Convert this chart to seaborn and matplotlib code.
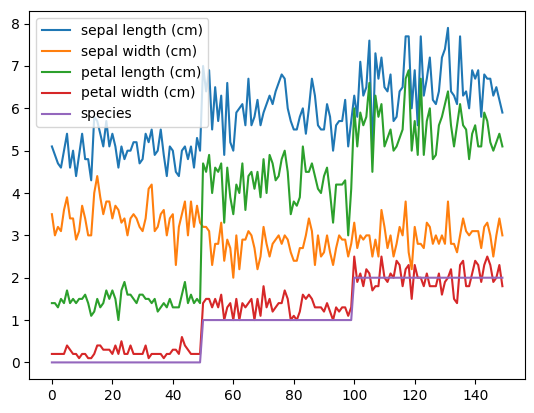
import pandas as pd
import numpy as np
import matplotlib.pyplot as plt
import seaborn as sns

plt.switch_backend('agg')

sepal_length = [5.1,4.9,4.7,4.6,5.0,5.4,4.6,5.0,4.4,4.9,5.4,4.8,4.8,4.3,5.8,5.7,5.4,5.1,5.7,5.1,
                5.4,5.1,4.6,5.1,4.8,5.0,5.0,5.2,5.2,4.7,4.8,5.4,5.2,5.5,4.9,5.0,5.5,4.9,4.4,5.1,
                5.0,4.5,4.4,5.0,5.1,4.8,5.1,4.6,5.3,5.0,
                7.0,6.4,6.9,5.5,6.5,5.7,6.3,4.9,6.6,5.2,5.0,5.9,6.0,6.1,5.6,6.7,5.6,5.8,6.2,5.6,
                5.9,6.1,6.3,6.1,6.4,6.6,6.8,6.7,6.0,5.7,5.5,5.5,5.8,6.0,5.4,6.0,6.7,6.3,5.6,5.5,
                5.5,6.1,5.8,5.0,5.6,5.7,5.7,6.2,5.1,5.7,
                6.3,5.8,7.1,6.3,6.5,7.6,4.9,7.3,6.7,7.2,6.5,6.4,6.8,5.7,5.8,6.4,6.5,7.7,7.7,6.0,
                6.9,5.6,7.7,6.3,6.7,7.2,6.2,6.1,6.4,7.2,7.4,7.9,6.4,6.3,6.1,7.7,6.3,6.4,6.0,6.9,
                6.7,6.9,5.8,6.8,6.7,6.7,6.3,6.5,6.2,5.9]
sepal_width = [3.5,3.0,3.2,3.1,3.6,3.9,3.4,3.4,2.9,3.1,3.7,3.4,3.0,3.0,4.0,4.4,3.9,3.5,3.8,3.8,
               3.4,3.7,3.6,3.3,3.4,3.0,3.4,3.5,3.4,3.2,3.1,3.4,4.1,4.2,3.1,3.2,3.5,3.6,3.0,3.4,
               3.5,2.3,3.2,3.5,3.8,3.0,3.8,3.2,3.7,3.3,
               3.2,3.2,3.1,2.3,2.8,2.8,3.3,2.4,2.9,2.7,2.0,3.0,2.2,2.9,2.9,3.1,3.0,2.7,2.2,2.5,
               3.2,2.8,2.5,2.8,2.9,3.0,2.8,3.0,2.9,2.6,2.4,2.4,2.7,2.7,3.0,3.4,3.1,2.3,3.0,2.5,
               2.6,3.0,2.6,2.3,2.7,3.0,2.9,2.9,2.5,2.8,
               3.3,2.7,3.0,2.9,3.0,3.0,2.5,2.9,2.5,3.6,3.2,2.7,3.0,2.5,2.8,3.2,3.0,3.8,2.6,2.2,
               3.2,2.8,2.8,2.7,3.3,3.2,2.8,3.0,2.8,3.0,2.8,3.8,2.8,2.8,2.6,3.0,3.4,3.1,3.0,3.1,
               3.1,3.1,2.7,3.2,3.3,3.0,2.5,3.0,3.4,3.0]
petal_length = [1.4,1.4,1.3,1.5,1.4,1.7,1.4,1.5,1.4,1.5,1.5,1.6,1.4,1.1,1.2,1.5,1.3,1.4,1.7,1.5,
                1.7,1.5,1.0,1.7,1.9,1.6,1.6,1.5,1.4,1.6,1.6,1.5,1.5,1.4,1.5,1.2,1.3,1.4,1.3,1.5,
                1.3,1.3,1.3,1.6,1.9,1.4,1.6,1.4,1.5,1.4,
                4.7,4.5,4.9,4.0,4.6,4.5,4.7,3.3,4.6,3.9,3.5,4.2,4.0,4.7,3.6,4.4,4.5,4.1,4.5,3.9,
                4.8,4.0,4.9,4.7,4.3,4.4,4.8,5.0,4.5,3.5,3.8,3.7,3.9,5.1,4.5,4.5,4.7,4.4,4.1,4.0,
                4.4,4.6,4.0,3.3,4.2,4.2,4.2,4.3,3.0,4.1,
                6.0,5.1,5.9,5.6,5.8,6.6,4.5,6.3,5.8,6.1,5.1,5.3,5.5,5.0,5.1,5.3,5.5,6.7,6.9,5.0,
                5.7,4.9,6.7,4.9,5.7,6.0,4.8,4.9,5.6,5.8,6.1,6.4,5.6,5.1,5.6,6.1,5.6,5.5,4.8,5.4,
                5.6,5.1,5.1,5.9,5.7,5.2,5.0,5.2,5.4,5.1]
petal_width = [0.2,0.2,0.2,0.2,0.2,0.4,0.3,0.2,0.2,0.1,0.2,0.2,0.1,0.1,0.2,0.4,0.4,0.3,0.3,0.3,
               0.2,0.4,0.2,0.5,0.2,0.2,0.4,0.2,0.2,0.2,0.2,0.4,0.1,0.2,0.2,0.2,0.2,0.1,0.2,0.2,
               0.3,0.3,0.2,0.6,0.4,0.3,0.2,0.2,0.2,0.2,
               1.4,1.5,1.5,1.3,1.5,1.3,1.6,1.0,1.3,1.4,1.0,1.5,1.0,1.4,1.3,1.4,1.5,1.0,1.5,1.1,
               1.8,1.3,1.5,1.2,1.3,1.4,1.4,1.7,1.5,1.0,1.1,1.0,1.2,1.6,1.5,1.6,1.5,1.3,1.3,1.3,
               1.2,1.4,1.2,1.0,1.3,1.2,1.3,1.3,1.1,1.3,
               2.5,1.9,2.1,1.8,2.2,2.1,1.7,1.8,1.8,2.5,2.0,1.9,2.1,2.0,2.4,2.3,1.8,2.2,2.3,1.5,
               2.3,2.0,2.0,1.8,2.1,1.8,1.8,1.8,2.1,1.6,1.9,2.0,2.2,1.5,1.4,2.3,2.4,1.8,1.8,2.1,
               2.4,2.3,1.9,2.3,2.5,2.3,1.9,2.0,2.3,1.8]
species = [0] * 50 + [1] * 50 + [2] * 50

df = pd.DataFrame({
    'sepal length (cm)': sepal_length,
    'sepal width (cm)': sepal_width,
    'petal length (cm)': petal_length,
    'petal width (cm)': petal_width,
    'species': species,
})

fig, ax = plt.subplots(figsize=(5.34, 4.13), dpi=100)
sns.lineplot(data=df, dashes=False, palette='tab10', ax=ax)
ax.legend(loc='upper left')
fig.subplots_adjust(left=0.055, right=0.983, top=0.973, bottom=0.082)
fig.savefig('out.png')
